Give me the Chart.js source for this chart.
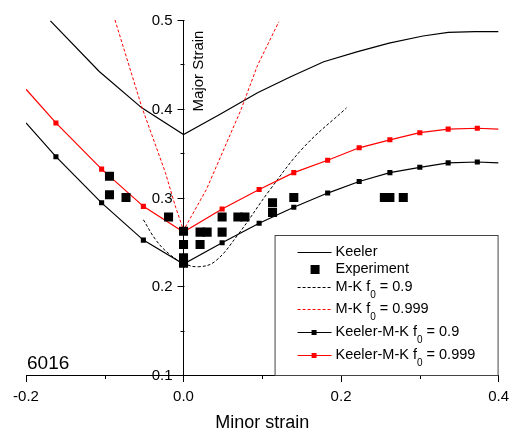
<!DOCTYPE html>
<html>
<head>
<meta charset="utf-8">
<script src="https://cdn.jsdelivr.net/npm/chart.js@4.4.1/dist/chart.umd.min.js"></script>
<style>
  html, body { margin: 0; padding: 0; background: #fff; }
  #wrap { width: 515px; height: 432px; }
</style>
</head>
<body>
<div id="wrap"><canvas id="flc"></canvas></div>
<script>
// Forming limit curves for 6016 (minor strain -> major strain)
const keelerMinor = [-0.169, -0.107, -0.053, 0, 0.047, 0.094, 0.136, 0.178, 0.22, 0.261, 0.304, 0.336, 0.37, 0.40];
const keelerMajor = [0.499, 0.442, 0.401, 0.371, 0.394, 0.418, 0.436, 0.453, 0.464, 0.474, 0.482, 0.486, 0.487, 0.487];

const expMinor = [-0.094, -0.094, -0.073, -0.019, 0, 0, 0, 0, 0.021, 0.030, 0.021, 0.049, 0.049, 0.069, 0.078, 0.113, 0.113, 0.140, 0.255, 0.262, 0.279];
const expMajor = [0.324, 0.303, 0.300, 0.278, 0.262, 0.247, 0.232, 0.226, 0.261, 0.261, 0.247, 0.261, 0.278, 0.278, 0.278, 0.294, 0.283, 0.300, 0.300, 0.300, 0.300];

const mk09Minor = [-0.051, -0.035, -0.019, 0, 0.019, 0.040, 0.069, 0.110, 0.153, 0.207];
const mk09Major = [0.275, 0.252, 0.237, 0.226, 0.222, 0.228, 0.258, 0.309, 0.357, 0.401];

const mk0999Minor = [-0.087, -0.053, -0.023, -0.010, 0, 0.029, 0.073, 0.094, 0.121];
const mk0999Major = [0.500, 0.402, 0.328, 0.289, 0.263, 0.309, 0.399, 0.449, 0.498];

const kmk09Minor = [-0.2, -0.162, -0.104, -0.051, 0, 0.049, 0.096, 0.140, 0.183, 0.223, 0.262, 0.300, 0.336, 0.373, 0.40];
const kmk09Major = [0.384, 0.346, 0.294, 0.252, 0.225, 0.249, 0.271, 0.289, 0.305, 0.318, 0.328, 0.334, 0.339, 0.340, 0.339];

const kmk0999Minor = [-0.2, -0.162, -0.104, -0.051, 0, 0.049, 0.096, 0.140, 0.183, 0.223, 0.262, 0.300, 0.336, 0.373, 0.40];
const kmk0999Major = [0.422, 0.384, 0.332, 0.290, 0.261, 0.287, 0.309, 0.328, 0.342, 0.356, 0.365, 0.373, 0.377, 0.378, 0.377];

const xTicks = [-0.2, 0.0, 0.2, 0.4];
const yTicks = [0.1, 0.2, 0.3, 0.4, 0.5];

const FONT = '"Liberation Sans", Arial, sans-serif';
Chart.defaults.font.family = FONT;
Chart.defaults.color = '#000';

function zip(xs, ys) {
    return xs.map((x, i) => ({ x: x, y: ys[i] }));
}

// markers on every inner point, none on the two ends
function innerMarkers(ctx) {
    const n = ctx.dataset.data.length;
    return (ctx.dataIndex === 0 || ctx.dataIndex === n - 1) ? 0 : 3.6;
}

function isMajor(v, list) {
    return list.some(t => Math.abs(t - v) < 1e-6);
}

// legend + free text drawn by hand (subscripts are not possible in the built-in legend)
const legendEntries = [
    { text: 'Keeler', color: '#000', dash: [], marker: false, line: true },
    { text: 'Experiment', color: '#000', dash: [], marker: 'big', line: false },
    { text: 'M-K f', sub: '0', rest: ' = 0.9', color: '#000', dash: [3, 2], marker: false, line: true },
    { text: 'M-K f', sub: '0', rest: ' = 0.999', color: '#ff0000', dash: [3, 2], marker: false, line: true },
    { text: 'Keeler-M-K f', sub: '0', rest: ' = 0.9', color: '#000', dash: [], marker: 'small', line: true },
    { text: 'Keeler-M-K f', sub: '0', rest: ' = 0.999', color: '#ff0000', dash: [], marker: 'small', line: true }
];
const legendRows = [17, 34, 52, 74, 97, 120];

const extras = {
    id: 'extras',
    afterDraw(chart) {
        const ctx = chart.ctx;
        const area = chart.chartArea;
        const xs = chart.scales.x, ys = chart.scales.y;
        const x0 = Math.round(xs.getPixelForValue(0)) + 0.5;

        ctx.save();
        ctx.strokeStyle = '#000';
        ctx.fillStyle = '#000';
        ctx.lineWidth = 1;

        // y axis ticks and labels on the left of the axis at x = 0
        ctx.font = '15px ' + FONT;
        ctx.textAlign = 'right';
        ctx.textBaseline = 'middle';
        ys.ticks.forEach(t => {
            const py = Math.round(ys.getPixelForValue(t.value)) + 0.5;
            const major = isMajor(t.value, yTicks);
            ctx.beginPath();
            ctx.moveTo(x0, py);
            ctx.lineTo(x0 - (major ? 7 : 4), py);
            ctx.stroke();
            if (major) ctx.fillText(t.value.toFixed(1), x0 - 12, py);
        });

        // short minor ticks on the x axis
        xs.ticks.forEach(t => {
            if (isMajor(t.value, xTicks)) return;
            const px = Math.round(xs.getPixelForValue(t.value)) + 0.5;
            ctx.beginPath();
            ctx.moveTo(px, area.bottom);
            ctx.lineTo(px, area.bottom + 4);
            ctx.stroke();
        });
        ctx.restore();

        // y axis title sits to the right of the axis line
        ctx.save();
        ctx.fillStyle = '#000';
        ctx.font = '15px ' + FONT;
        ctx.translate(x0 + 18, area.top + 51);
        ctx.rotate(-Math.PI / 2);
        ctx.textAlign = 'center';
        ctx.textBaseline = 'alphabetic';
        ctx.fillText('Major Strain', 0, 0);
        ctx.restore();

        // alloy label
        ctx.save();
        ctx.fillStyle = '#000';
        ctx.font = '19px ' + FONT;
        ctx.textBaseline = 'alphabetic';
        ctx.fillText('6016', area.left + 1, area.bottom - 6);
        ctx.restore();

        // legend box
        const bx = area.right - 224, by = area.bottom - 140;
        ctx.save();
        ctx.fillStyle = '#fff';
        ctx.fillRect(bx, by, 224, 140);
        ctx.strokeStyle = '#444';
        ctx.lineWidth = 1;
        ctx.strokeRect(bx + 0.5, by + 0.5, 223, 140);
        legendEntries.forEach((e, i) => {
            const cy = by + legendRows[i];
            const lx1 = bx + 23, lx2 = bx + 57;
            if (e.line) {
                ctx.strokeStyle = e.color;
                ctx.setLineDash(e.dash);
                ctx.beginPath();
                ctx.moveTo(lx1, cy + 0.5);
                ctx.lineTo(lx2, cy + 0.5);
                ctx.stroke();
                ctx.setLineDash([]);
            }
            ctx.fillStyle = e.color;
            if (e.marker === 'big') ctx.fillRect(bx + 36, cy - 4, 9, 9);
            if (e.marker === 'small') ctx.fillRect(bx + 37, cy - 2, 5, 5);
            ctx.fillStyle = '#000';
            ctx.font = '14.5px ' + FONT;
            ctx.textBaseline = 'middle';
            let tx = bx + 61;
            ctx.fillText(e.text, tx, cy);
            if (e.sub) {
                tx += ctx.measureText(e.text).width;
                ctx.font = '10px ' + FONT;
                ctx.fillText(e.sub, tx, cy + 8);
                tx += ctx.measureText(e.sub).width;
                ctx.font = '14.5px ' + FONT;
                ctx.fillText(e.rest, tx, cy);
            }
        });
        ctx.restore();
    }
};

const ctx = document.getElementById('flc').getContext('2d');
new Chart(ctx, {
    type: 'scatter',
    data: {
        datasets: [
            {
                label: 'Experiment',
                data: zip(expMinor, expMajor),
                showLine: false,
                pointStyle: 'rect',
                pointRadius: 6.4,
                backgroundColor: '#000',
                borderColor: '#000',
                borderWidth: 0
            },
            {
                label: 'Keeler-M-K f0 = 0.999',
                data: zip(kmk0999Minor, kmk0999Major),
                showLine: true,
                borderColor: '#ff0000',
                backgroundColor: '#ff0000',
                borderWidth: 1.2,
                pointStyle: 'rect',
                pointRadius: innerMarkers,
                pointBorderWidth: 0
            },
            {
                label: 'Keeler-M-K f0 = 0.9',
                data: zip(kmk09Minor, kmk09Major),
                showLine: true,
                borderColor: '#000',
                backgroundColor: '#000',
                borderWidth: 1.2,
                pointStyle: 'rect',
                pointRadius: innerMarkers,
                pointBorderWidth: 0
            },
            {
                label: 'M-K f0 = 0.999',
                data: zip(mk0999Minor, mk0999Major),
                showLine: true,
                borderColor: '#ff0000',
                borderWidth: 1,
                borderDash: [3, 2],
                pointRadius: 0
            },
            {
                label: 'M-K f0 = 0.9',
                data: zip(mk09Minor, mk09Major),
                showLine: true,
                borderColor: '#000',
                borderWidth: 1,
                borderDash: [3, 2],
                tension: 0.4,
                pointRadius: 0
            },
            {
                label: 'Keeler',
                data: zip(keelerMinor, keelerMajor),
                showLine: true,
                borderColor: '#000',
                borderWidth: 1.2,
                pointRadius: 0
            }
        ]
    },
    options: {
        responsive: true,
        maintainAspectRatio: false,
        animation: false,
        layout: {
            padding: { left: 26, right: 11, top: 20, bottom: 0 }
        },
        plugins: {
            legend: { display: false },
            tooltip: { enabled: false }
        },
        scales: {
            x: {
                type: 'linear',
                min: -0.2,
                max: 0.4,
                afterFit: scale => { scale.height = 57; },
                ticks: {
                    stepSize: 0.1,
                    padding: 6,
                    font: { size: 15 },
                    color: '#000',
                    callback: v => isMajor(v, xTicks) ? v.toFixed(1) : ''
                },
                grid: {
                    drawOnChartArea: false,
                    drawTicks: true,
                    tickLength: 7,
                    color: c => (c.tick && isMajor(c.tick.value, xTicks)) ? '#000' : 'rgba(0,0,0,0)'
                },
                border: { display: true, color: '#000', width: 1 },
                title: {
                    display: true,
                    text: 'Minor strain',
                    font: { size: 18, lineHeight: 1 },
                    color: '#000',
                    padding: { top: 0, bottom: 0 }
                }
            },
            y: {
                type: 'linear',
                min: 0.1,
                max: 0.5,
                position: { x: 0 },
                ticks: {
                    stepSize: 0.05,
                    display: false
                },
                grid: {
                    drawOnChartArea: false,
                    drawTicks: false
                },
                border: { display: true, color: '#000', width: 1 }
            }
        }
    },
    plugins: [extras]
});
</script>
</body>
</html>
